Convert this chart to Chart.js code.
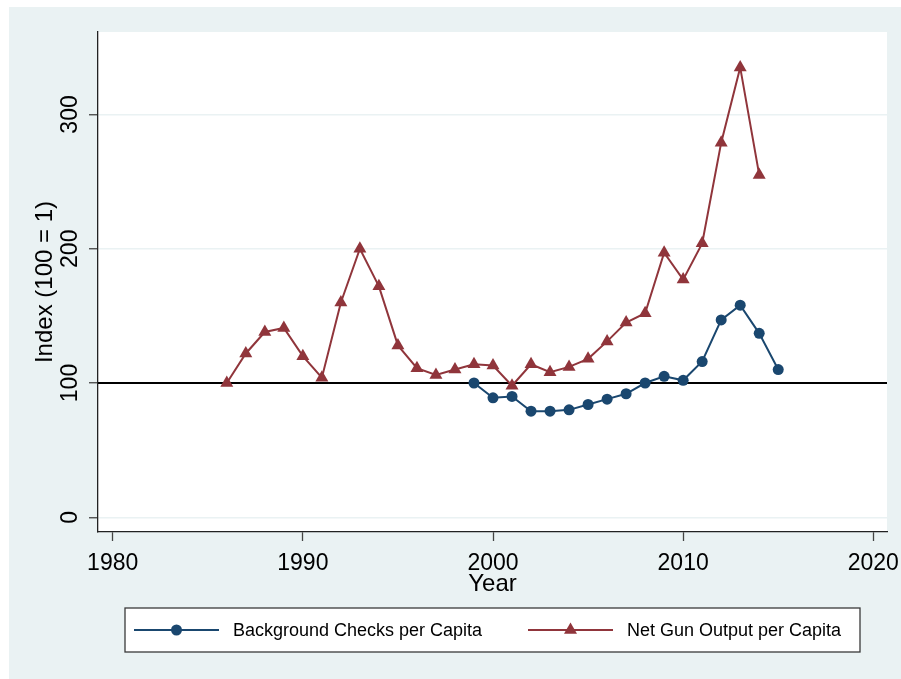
<!DOCTYPE html>
<html>
<head>
<meta charset="utf-8">
<script src="https://cdn.jsdelivr.net/npm/chart.js@4.4.1/dist/chart.umd.min.js"></script>
<style>
  html, body { margin: 0; padding: 0; background: #fff; }
  canvas { display: block; }
</style>
</head>
<body>
<canvas id="chart" width="901" height="679"></canvas>
<script>
// --- data ---
const gunYears = [1986, 1987, 1988, 1989, 1990, 1991, 1992, 1993, 1994, 1995,
  1996, 1997, 1998, 1999, 2000, 2001, 2002, 2003, 2004, 2005,
  2006, 2007, 2008, 2009, 2010, 2011, 2012, 2013, 2014];
const gunOutput = [100, 122, 138, 141, 120, 104, 160, 200, 172, 128,
  111, 106, 110, 114, 113, 98, 114, 108, 112, 118,
  131, 145, 152, 197, 177, 204, 279, 335, 255];

const checkYears = [1999, 2000, 2001, 2002, 2003, 2004, 2005, 2006, 2007,
  2008, 2009, 2010, 2011, 2012, 2013, 2014, 2015];
const backgroundChecks = [100, 89, 90, 79, 79, 80, 84, 88, 92,
  100, 105, 102, 116, 147, 158, 137, 110];

const xTicks = [1980, 1990, 2000, 2010, 2020];
const yTicks = [0, 100, 200, 300];
const refLine = 100;

const labels = ["Background Checks per Capita", "Net Gun Output per Capita"];

const NAVY = "#1a476f";
const MAROON = "#90353b";
const BG = "#eaf2f3";
const FONT = "'Liberation Sans', Arial, sans-serif";

const toPoints = (xs, ys) => xs.map((x, i) => ({ x: x, y: ys[i] }));

// background + white plot region
const backdrop = {
  id: "backdrop",
  beforeDraw(chart) {
    const { ctx, chartArea: a } = chart;
    ctx.save();
    ctx.fillStyle = "#fff";
    ctx.fillRect(0, 0, chart.width, chart.height);
    ctx.fillStyle = BG;
    ctx.fillRect(9, 7, chart.width - 9, chart.height - 7);
    ctx.fillStyle = "#fff";
    ctx.fillRect(a.left, a.top, a.right - a.left, a.bottom - a.top);
    ctx.restore();
  }
};

// black reference line at 100
const yline = {
  id: "yline",
  beforeDatasetsDraw(chart) {
    const { ctx, chartArea: a, scales } = chart;
    const y = scales.y.getPixelForValue(refLine);
    ctx.save();
    ctx.strokeStyle = "#000";
    ctx.lineWidth = 2;
    ctx.beginPath();
    ctx.moveTo(a.left, y);
    ctx.lineTo(a.right, y);
    ctx.stroke();
    ctx.restore();
  }
};

// stata-like legend box below the plot
const boxLegend = {
  id: "boxLegend",
  afterDraw(chart) {
    const ctx = chart.ctx;
    const box = { left: 125, top: 608, right: 860, bottom: 652 };
    const midY = (box.top + box.bottom) / 2;
    ctx.save();
    ctx.fillStyle = "#fff";
    ctx.fillRect(box.left, box.top, box.right - box.left, box.bottom - box.top);
    ctx.strokeStyle = "#3a3a3a";
    ctx.lineWidth = 1.3;
    ctx.strokeRect(box.left, box.top, box.right - box.left, box.bottom - box.top);

    const starts = [134, 528];
    chart.data.datasets.forEach((ds, i) => {
      const x0 = starts[i];
      ctx.strokeStyle = ds.borderColor;
      ctx.lineWidth = ds.borderWidth;
      ctx.beginPath();
      ctx.moveTo(x0, midY);
      ctx.lineTo(x0 + 85, midY);
      ctx.stroke();
      ctx.fillStyle = ds.pointBackgroundColor;
      Chart.helpers.drawPoint(ctx, {
        pointStyle: ds.pointStyle,
        radius: ds.pointRadius,
        borderWidth: 0,
        rotation: 0
      }, x0 + 42.5, midY);
      ctx.fillStyle = "#000";
      ctx.font = "18px " + FONT;
      ctx.textBaseline = "middle";
      ctx.textAlign = "left";
      ctx.fillText(ds.label, x0 + 99, midY + 1);
    });
    ctx.restore();
  }
};

new Chart(document.getElementById("chart"), {
  type: "line",
  data: {
    datasets: [
      {
        label: labels[0],
        data: toPoints(checkYears, backgroundChecks),
        borderColor: NAVY,
        backgroundColor: NAVY,
        pointBackgroundColor: NAVY,
        pointStyle: "circle",
        pointRadius: 5.5,
        pointBorderWidth: 0,
        borderWidth: 2,
        fill: false,
        tension: 0
      },
      {
        label: labels[1],
        data: toPoints(gunYears, gunOutput),
        borderColor: MAROON,
        backgroundColor: MAROON,
        pointBackgroundColor: MAROON,
        pointStyle: "triangle",
        pointRadius: 7.5,
        pointBorderWidth: 0,
        borderWidth: 2,
        fill: false,
        tension: 0
      }
    ]
  },
  options: {
    responsive: false,
    animation: false,
    devicePixelRatio: 1,
    layout: { padding: { left: 0, top: 32, right: 14, bottom: 0 } },
    plugins: {
      legend: { display: false },
      tooltip: { enabled: false }
    },
    scales: {
      x: {
        type: "linear",
        min: 1979.227,
        max: 2020.72,
        afterFit(scale) {
          scale.height = 147;
          scale.paddingLeft = 0;
          scale.paddingRight = 0;
        },
        afterBuildTicks(scale) { scale.ticks = xTicks.map(v => ({ value: v })); },
        ticks: {
          color: "#000",
          font: { family: FONT, size: 23 },
          padding: 9,
          callback: v => String(v)
        },
        grid: {
          drawOnChartArea: false,
          drawTicks: true,
          tickLength: 9,
          tickColor: "#444",
          tickWidth: 1.3
        },
        border: { display: true, color: "#222", width: 1.3 },
        title: {
          display: true,
          text: "Year",
          color: "#000",
          font: { family: FONT, size: 24 },
          padding: { top: 0, bottom: 80 }
        }
      },
      y: {
        type: "linear",
        min: -10.95,
        max: 361.4,
        afterFit(scale) { scale.width = 98; },
        afterBuildTicks(scale) { scale.ticks = yTicks.map(v => ({ value: v })); },
        ticks: {
          color: "#000",
          font: { family: FONT, size: 23 },
          minRotation: 90,
          maxRotation: 90,
          crossAlign: "center",
          padding: -1,
          callback: v => String(v)
        },
        grid: {
          color: BG,
          lineWidth: 1.5,
          drawTicks: true,
          tickLength: 9,
          tickColor: "#444",
          tickWidth: 1.3
        },
        border: { display: true, color: "#222", width: 1.3 },
        title: {
          display: true,
          text: "Index (100 = 1)",
          color: "#000",
          font: { family: FONT, size: 24 },
          padding: { top: 31, bottom: 0 }
        }
      }
    }
  },
  plugins: [backdrop, yline, boxLegend]
});
</script>
</body>
</html>
